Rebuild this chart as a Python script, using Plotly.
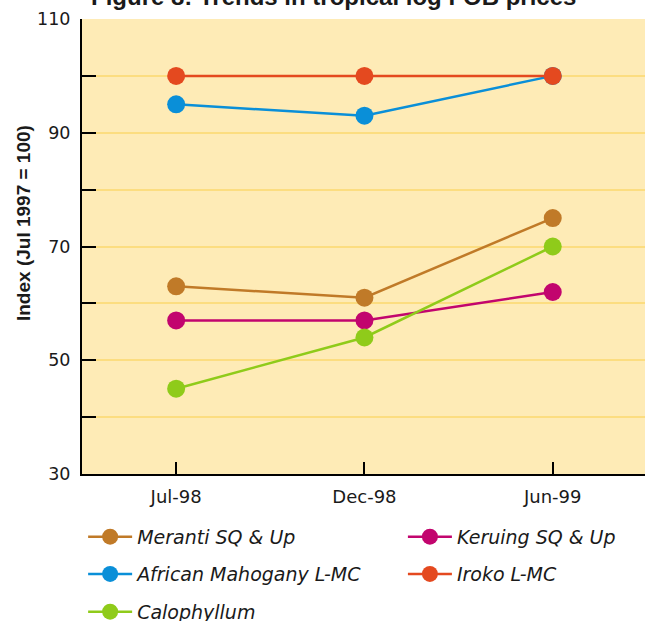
import plotly.graph_objects as go

# Survey dates and index values (Jul 1997 = 100)
periods = ["Jul-98", "Dec-98", "Jun-99"]
meranti = [63, 61, 75]
keruing = [57, 57, 62]
mahogany = [95, 93, 100]
iroko = [100, 100, 100]
calophyllum = [45, 54, 70]

y_ticks = [30, 40, 50, 60, 70, 80, 90, 100, 110]
y_labels = ["30", "", "50", "", "70", "", "90", "", "110"]

# name, values, colour, legend slot (column, row)
series = [
    ("Meranti SQ & Up", meranti, "#C07A28", (0, 0)),
    ("Keruing SQ & Up", keruing, "#C2056E", (1, 0)),
    ("African Mahogany L-MC", mahogany, "#0A8FD8", (0, 1)),
    ("Iroko L-MC", iroko, "#E4491F", (1, 1)),
    ("Calophyllum", calophyllum, "#8FCB1A", (0, 2)),
]

FONT = "DejaVu Sans"
BOLD_FONT = "Liberation Sans"
TEXT = "#1a1a1a"

col_x = [0.002, 0.570]
row_y = [-0.138, -0.220, -0.303]

fig = go.Figure()
legends = {}
for i, (name, vals, color, (col, row)) in enumerate(series):
    key = "legend" if i == 0 else f"legend{i + 1}"
    fig.add_trace(go.Scatter(
        x=periods, y=vals, name=name, mode="lines+markers",
        line=dict(color=color, width=2.5),
        marker=dict(color=color, size=18),
        legend=key, showlegend=True,
        cliponaxis=False,
    ))
    legends[key] = dict(
        x=col_x[col], y=row_y[row], xanchor="left", yanchor="middle",
        orientation="h", itemwidth=44, visible=True,
        font=dict(family=FONT, size=19, color=TEXT, style="italic"),
        bgcolor="rgba(0,0,0,0)", itemclick=False,
    )

fig.update_layout(
    width=645, height=621,
    showlegend=True,
    margin=dict(l=82, r=0, t=19, b=147, autoexpand=False),
    paper_bgcolor="white",
    plot_bgcolor="#FEEBB6",
    font=dict(family=FONT, color=TEXT),
    xaxis=dict(
        type="category", range=[-0.5, 2.49],
        showgrid=False, zeroline=False,
        showline=True, linecolor="black", linewidth=2,
        ticks="inside", ticklen=12, tickwidth=2, tickcolor="black",
        tickfont=dict(size=18, family=FONT), ticklabelstandoff=5,
    ),
    yaxis=dict(
        range=[30, 110], tickvals=y_ticks, ticktext=y_labels,
        showgrid=True, gridcolor="#FCDD80", gridwidth=2,
        zeroline=False, showline=True, linecolor="black", linewidth=2,
        ticks="inside", ticklen=14, tickwidth=2, tickcolor="black",
        tickfont=dict(size=17.5, family=FONT), ticklabelstandoff=6,
    ),
    annotations=[
        dict(
            text="<b>Figure 8: Trends in tropical log FOB prices</b>",
            xref="paper", yref="paper", x=0.446, y=1, yanchor="bottom",
            yshift=7, showarrow=False,
            font=dict(size=24, family=BOLD_FONT, color=TEXT),
        ),
        dict(
            text="<b>Index (Jul 1997 = 100)</b>", textangle=-90,
            xref="paper", yref="paper", x=-0.1048, y=0.5516,
            xanchor="center", yanchor="middle", showarrow=False,
            font=dict(size=19, family=BOLD_FONT, color=TEXT),
        ),
    ],
    **legends,
)

fig.write_html("out.html")
